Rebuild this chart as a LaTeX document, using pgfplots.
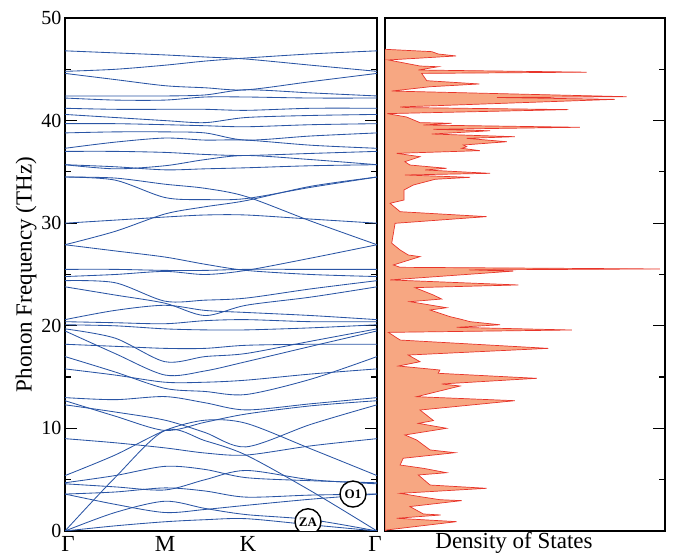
\documentclass[border=0pt]{standalone}
\usepackage{pgfplots}
\pgfplotsset{compat=1.18}
\usepackage{pgfplotstable}
\usepackage{fontspec}
\setmainfont{Liberation Serif}
\definecolor{bandblue}{HTML}{2A55A5}
\definecolor{dosred}{HTML}{E8352B}
\definecolor{dosfill}{HTML}{F7A782}

% phonon branches: one column per branch, rows = Gamma, mid, M, mid, K, mid, Gamma
\pgfplotstableread{
k b1 b2 b3 b4 b5 b6 b7 b8 b9 b10 b11 b12 b13 b14 b15 b16 b17 b18 b19 b20 b21 b22 b23 b24 b25 b26 b27 b28 b29 b30 b31 b32 b33 b34 b35 b36 b37 b38 b39 b40 b41 b42
0   0   0   0   3.6 3.6 4.6 4.7 5.4 9.0 12.3 12.7 13.0 15.8 17.0 18.2 19.5 19.7 20.1 20.4 20.6 23.8 24.4 24.8 25.5 27.9 27.9 30.0 34.5 34.5 35.7 35.7 37.0 37.3 38.8 39.7 40.6 41.2 42.2 42.4 44.6 44.8 46.8
50  0.5 1.8 5.2 2.6 3.8 4.3 5.4 7.4 8.6 11.6 11.2 12.8 15.2 15.5 18.0 17.3 18.8 20.0 20.3 21.5 23.0 24.2 25.0 25.5 27.3 29.2 30.3 34.4 34.2 35.5 35.3 37.0 37.9 38.9 39.7 40.3 41.1 42.0 42.4 44.0 45.0 46.6
100 0.9 2.9 9.8 1.8 4.2 4.0 6.3 9.8 8.1 10.8 9.8 13.1 14.5 13.9 17.8 15.2 16.5 19.7 20.2 22.0 22.2 22.4 25.3 25.4 26.7 30.9 30.6 33.8 32.5 35.2 35.6 36.9 38.3 38.9 39.6 40.0 41.1 42.0 42.4 43.4 45.4 46.4
140 1.1 2.2 8.8 2.1 3.9 5.0 6.0 10.8 7.6 9.6 10.6 12.5 14.5 13.6 17.8 15.6 17.0 19.6 20.5 21.5 21.0 22.5 25.0 25.4 26.0 31.6 30.8 33.4 32.3 35.3 36.2 36.7 38.1 38.8 39.5 39.8 41.1 42.3 42.5 43.2 45.8 46.2
181 1.2 1.6 7.4 2.5 3.3 5.9 5.2 10.5 7.4 8.2 11.4 11.8 14.7 13.3 18.1 16.5 17.3 19.6 20.6 21.3 22.0 22.7 25.4 25.5 25.4 32.2 30.8 32.6 32.4 35.4 36.6 36.6 38.1 38.1 39.4 40.3 41.0 42.3 43.0 43.0 46.1 46.0
246 0.6 1.1 3.9 3.1 3.5 5.0 4.9 8.0 8.3 10.4 12.2 12.4 15.3 14.8 18.2 18.0 18.5 19.8 20.4 21.0 22.8 23.6 26.6 25.5 25.0 33.6 30.4 30.2 33.5 35.6 36.2 36.8 37.6 38.5 39.6 40.5 41.2 42.2 42.7 43.8 46.5 45.4
312 0   0   0   3.6 3.6 4.6 4.7 5.4 9.0 12.3 12.7 13.0 15.8 17.0 18.2 19.5 19.7 20.1 20.4 20.6 23.8 24.4 27.9 25.5 24.8 34.5 30.0 27.9 34.5 35.7 35.7 37.0 37.3 38.8 39.7 40.6 41.2 42.2 42.4 44.6 46.8 44.8
}\bands

% density of states (dos, frequency)
\pgfplotstableread{
d f
0 46.95
16.7 46.72
19.0 46.49
25.4 46.30
1.2 45.91
12.5 45.32
19.0 45.25
11.9 44.93
72.0 44.72
13.1 44.60
14.9 43.89
33.7 43.57
16.1 43.30
2.4 42.88
86.3 42.33
40.0 42.25
82.1 42.07
5.4 41.33
7.7 41.27
65.5 41.07
0.8 40.68
7.7 40.35
12.5 39.80
23.8 39.74
13.7 39.57
69.6 39.35
17.3 39.15
37.5 39.01
16.7 38.69
46.4 38.43
29.2 38.27
43.5 37.94
28.0 37.62
29.2 37.46
27.4 37.30
33.9 37.07
4.2 36.81
12.5 36.48
7.1 35.99
8.9 35.67
22.0 35.35
14.3 35.19
37.5 34.86
7.1 34.70
30.4 34.47
17.9 34.28
10.1 33.72
6.8 33.24
6.8 32.26
1.8 31.94
5.4 31.12
36.3 30.64
3.6 29.99
2.4 28.05
5.4 27.39
8.3 26.90
12.5 26.74
3.0 25.93
5.4 25.70
98.2 25.54
30.0 25.45
45.8 25.33
1.8 24.47
47.6 23.98
10.7 23.72
17.3 23.00
20.2 22.61
8.9 22.35
22.0 21.76
16.1 21.54
23.2 20.89
26.8 20.66
30.4 20.40
41.1 20.10
25.6 19.85
66.7 19.59
1.2 19.36
5.4 18.61
58.3 17.80
8.3 17.15
12.5 16.50
4.8 16.08
19.6 15.69
19.0 15.37
54.2 14.88
20.2 14.33
26.8 14.13
11.3 13.09
46.4 12.70
12.5 11.79
17.3 10.76
11.9 10.49
22.0 10.01
7.1 9.36
11.3 8.87
16.1 7.90
25.0 7.63
6.5 7.09
5.4 6.43
13.7 6.11
22.0 5.68
11.9 5.46
16.1 4.48
36.3 4.16
5.4 3.67
12.5 3.35
19.6 3.05
27.4 2.96
8.9 2.38
13.7 1.66
19.9 1.56
4.2 1.24
25.6 0.91
0.6 0.10
0 0
}\dos

\begin{document}
\begin{tikzpicture}
\path[use as bounding box] (0,0) rectangle (673pt,556pt);
\pgfplotsset{
  frame/.style={
    scale only axis, anchor=south west,
    height=513pt, ymin=0, ymax=50,
    axis line style={line width=1.6pt},
    tick align=inside,
    major tick length=12pt, minor tick length=6pt,
    every tick/.style={black, line width=1.2pt},
    ytick={0,10,...,50}, minor y tick num=1,
    /pgf/number format/assume math mode=true,
    tick label style={font=\fontsize{20}{20}\selectfont},
    label style={font=\fontsize{23}{23}\selectfont},
  }
}
\begin{axis}[frame,
  at={(65pt,25pt)}, width=312pt,
  xmin=0, xmax=312,
  xtick={3,100,183,310},
  xticklabels={Γ,M,K,Γ},
  x tick style={draw=none},
  x tick label style={font=\fontsize{23}{23}\selectfont, yshift=-2pt},
  ylabel={Phonon Frequency (THz)},
  ylabel style={yshift=-2pt},
]
\pgfplotsinvokeforeach{1,...,42}{
  \addplot[bandblue, line width=0.85pt, smooth, tension=0.5] table[x=k, y=b#1] {\bands};
}
\node[draw, circle, line width=1.4pt, fill=white, minimum size=26pt, inner sep=0pt,
  font=\bfseries\fontsize{13}{13}\selectfont] at (axis cs:288,3.6) {O1};
\node[draw, circle, line width=1.4pt, fill=white, minimum size=26pt, inner sep=0pt,
  font=\bfseries\fontsize{13}{13}\selectfont] at (axis cs:243,0.9) {ZA};
\end{axis}

\begin{axis}[frame,
  at={(385pt,25pt)}, width=280pt,
  xmin=0, xmax=100,
  xtick=\empty,
  yticklabels={},
  ytick pos=right,
  xlabel={Density of States},
  xlabel style={yshift=2pt, xshift=-11pt},
]
\addplot[draw=dosred, line width=0.7pt, fill=dosfill] table[x=d, y=f] {\dos} -- cycle;
\end{axis}
\end{tikzpicture}
\end{document}
